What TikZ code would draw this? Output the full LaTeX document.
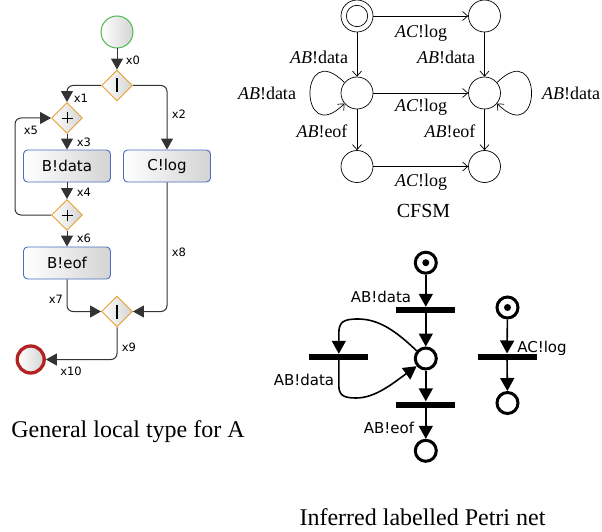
\documentclass[tikz,border=0pt]{standalone}
\usepackage{fontspec}
\setmainfont{Liberation Serif}
\newfontfamily\dv{DejaVu Sans}
\usetikzlibrary{arrows.meta,shapes.geometric,calc}
\definecolor{gwor}{HTML}{E8A030}
\definecolor{boxbl}{HTML}{4A6FC0}
\definecolor{stgr}{HTML}{4CB84C}
\definecolor{endrd}{HTML}{B22222}
\begin{document}
\begin{tikzpicture}[x=1pt,y=1pt,
  shd/.style={left color=white, right color=black!17},
  gw/.style={diamond, draw=gwor, line width=0.9pt, minimum width=31pt, minimum height=31pt, inner sep=0pt, shd},
  task/.style={rectangle, rounded corners=4pt, draw=boxbl, line width=0.9pt, minimum width=87pt, minimum height=32pt, inner sep=0pt, shd, font=\dv\fontsize{15}{18}\selectfont},
  conn/.style={draw=black!80, line width=1pt, rounded corners=6pt, -{Triangle[length=11pt,width=12pt]}},
  xl/.style={font=\dv\fontsize{11.5}{13}\selectfont, inner sep=0pt},
  st/.style={circle, draw, line width=0.7pt, minimum size=32pt, inner sep=0pt},
  cf/.style={line width=0.7pt, -{Straight Barb[length=5pt,width=9pt]}},
  cl/.style={font=\fontsize{18}{20}\selectfont, inner sep=0pt},
  place/.style={circle, draw, line width=3pt, minimum size=21pt, inner sep=0pt},
  token/.style={circle, fill, minimum size=7pt, inner sep=0pt},
  bar/.style={rectangle, fill, minimum width=59pt, minimum height=6pt, inner sep=0pt},
  pa/.style={line width=1.6pt, -{Triangle[length=13pt,width=14pt]}},
  pl/.style={font=\dv\fontsize{15}{17}\selectfont, inner sep=0pt},
  captxt/.style={font=\fontsize{24}{28}\selectfont, inner sep=0pt}
]
\useasboundingbox (0,0) rectangle (602,-532);

% ---------------- BPMN ----------------
\node[circle, draw=stgr, line width=1pt, minimum size=32pt, inner sep=0pt, shd] (start) at (117,-32) {};
\node[gw] (g1) at (117,-85.5) {};
\node[gw] (p1) at (67,-118) {};
\node[task] (bdata) at (67,-166) {B!data};
\node[task] (clog) at (167,-166) {C!log};
\node[gw] (p2) at (67,-215) {};
\node[task] (beof) at (67,-263) {B!eof};
\node[gw] (g2) at (117,-311.5) {};
\node[circle, draw=endrd, line width=3.3pt, minimum size=27pt, inner sep=0pt, shd] (endn) at (30.7,-359.5) {};

\draw[line width=2.6pt] ($(g1)+(0,7)$) -- ($(g1)+(0,-7)$);
\draw[line width=2.6pt] ($(g2)+(0,7)$) -- ($(g2)+(0,-7)$);
\draw[line width=0.9pt] ($(p1)+(-5.5,0)$) -- ($(p1)+(5.5,0)$) ($(p1)+(0,-5.5)$) -- ($(p1)+(0,5.5)$);
\draw[line width=0.9pt] ($(p2)+(-5.5,0)$) -- ($(p2)+(5.5,0)$) ($(p2)+(0,-5.5)$) -- ($(p2)+(0,5.5)$);

\draw[conn] (start) -- (g1);
\draw[conn] (g1.west) -| (p1.north);
\draw[conn] (g1.east) -| (clog.north);
\draw[conn] (p1) -- (bdata);
\draw[conn] (bdata) -- (p2);
\draw[conn] (p2) -- (beof);
\draw[conn] (p2.west) -- ++(-36,0) |- (p1.west);
\draw[conn] (beof.south) |- (g2.west);
\draw[conn] (clog.south) |- (g2.east);
\draw[conn] (g2.south) |- (endn.east);

\node[xl] (lx0) at (133,-60) {x0};
\node[xl] (lx1) at (81,-98) {x1};
\node[xl] (lx2) at (179,-114) {x2};
\node[xl] (lx5) at (31,-130) {x5};
\node[xl] (lx3) at (84,-142) {x3};
\node[xl] (lx4) at (84,-192) {x4};
\node[xl] (lx6) at (84,-238) {x6};
\node[xl] (lx7) at (56,-299) {x7};
\node[xl] (lx8) at (179,-252) {x8};
\node[xl] (lx9) at (129,-347) {x9};
\node[xl] (lx10) at (71,-371) {x10};

\node[captxt] (capA) at (128,-432) {General local type for A};

% ---------------- CFSM ----------------
\node[st] (tl) at (357,-16) {};
\node[circle, draw, line width=0.7pt, minimum size=21.4pt, inner sep=0pt] (tlin) at (357,-16) {};
\node[st] (tr) at (484.5,-16) {};
\node[st] (ml) at (357,-93) {};
\node[st] (mr) at (484.5,-93) {};
\node[st] (bl) at (357,-166.5) {};
\node[st] (br) at (484.5,-166.5) {};

\draw[cf] (tl) -- (tr);
\draw[cf] (tl) -- (ml);
\draw[cf] (tr) -- (mr);
\draw[cf] (ml) -- (mr);
\draw[cf] (ml) -- (bl);
\draw[cf] (mr) -- (br);
\draw[cf] (bl) -- (br);
\draw[cf] (ml.140) .. controls +(135:65) and +(225:65) .. (ml.220);
\draw[cf] (mr.40) .. controls +(45:65) and +(-45:65) .. (mr.-40);

\node[cl] (c1) at (421,-33) {{\itshape AC}!log};
\node[cl] (c2) at (319,-57) {{\itshape AB}!data};
\node[cl] (c3) at (446,-57) {{\itshape AB}!data};
\node[cl] (c4) at (421,-107) {{\itshape AC}!log};
\node[cl] (c5) at (322,-131) {{\itshape AB}!eof};
\node[cl] (c6) at (450,-131) {{\itshape AB}!eof};
\node[cl] (c7) at (421,-182) {{\itshape AC}!log};
\node[cl] (c8) at (267,-93) {{\itshape AB}!data};
\node[cl] (c9) at (571,-93) {{\itshape AB}!data};
\node[font=\fontsize{20}{24}\selectfont, inner sep=0pt] (capC) at (423.5,-211) {CFSM};

% ---------------- Petri net ----------------
\node[place] (pp1) at (425.8,-262.7) {};
\node[token] (tk1) at (425.8,-262.7) {};
\node[bar] (pt1) at (425.8,-310) {};
\node[place] (pp2) at (425.8,-358.5) {};
\node[bar] (pt2) at (338.8,-357) {};
\node[bar] (pt3) at (425.8,-404.5) {};
\begin{scope}
\clip (380,-420) rectangle (470,-463);
\node[place] (pp3) at (425.8,-450.8) {};
\end{scope}
\node[place] (pp4) at (507.5,-307.5) {};
\node[token] (tk4) at (507.5,-307.5) {};
\node[bar] (pt4) at (507,-356.7) {};
\node[place] (pp5) at (507.5,-403) {};

\draw[pa] (pp1) -- (pt1);
\draw[pa] (pt1) -- (pp2);
\draw[pa] (pp2) -- (pt3);
\draw[pa] (pt3) -- (pp3);
\draw[pa] (pp4) -- (pt4);
\draw[pa] (pt4) -- (pp5);
\draw[pa] (pp2.140) .. controls (395,-330) and (378,-319) .. (358,-319) .. controls (343,-319) and (338.8,-322) .. (338.8,-334) -- (pt2.north);
\draw[pa] (pt2.south) -- (338.8,-385) .. controls (338.8,-395) and (343,-398) .. (356,-398) .. controls (375,-398) and (392,-384) .. (pp2.220);

\node[pl] (q1) at (381,-297) {AB!data};
\node[pl] (q2) at (304,-380) {AB!data};
\node[pl] (q3) at (389,-428) {AB!eof};
\node[pl] (q4) at (542,-348) {AC!log};

\node[captxt] (capP) at (422.5,-517) {Inferred labelled Petri net};
\end{tikzpicture}
\end{document}
